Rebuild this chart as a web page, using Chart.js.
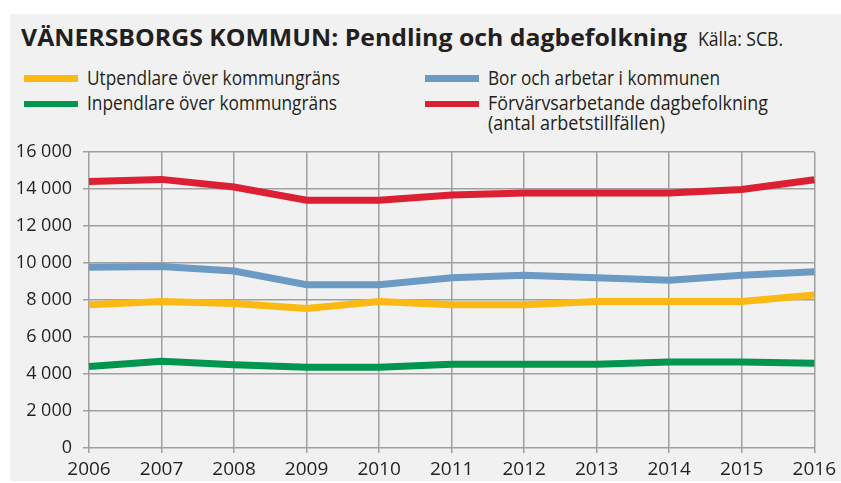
<!DOCTYPE html>
<html>
<head>
<meta charset="utf-8">
<script src="https://cdn.jsdelivr.net/npm/chart.js@4"></script>
<style>
  html, body { margin: 0; padding: 0; background: #ffffff; }
  body { width: 841px; height: 483px; position: relative; overflow: hidden; font-family: "Open Sans", "Noto Sans", sans-serif; color: #231f20; }
  #panel { position: absolute; left: 10px; top: 14px; width: 831px; height: 467px; background: #f0f1f0; }
  .t { position: absolute; white-space: nowrap; line-height: 1; transform-origin: 0 0; }
  #title { left: 20.7px; font-weight: 700; font-size: 23.5px; }
  #source { font-weight: 400; font-size: 19.5px; }
  .leg { font-size: 20.5px; }
  .sw { position: absolute; height: 6.5px; width: 54px; }
  #wrap { position: absolute; left: 0; top: 130px; width: 841px; height: 353px; }
</style>
</head>
<body>
<div id="panel"></div>
<div class="t" id="title" data-w="666" data-base="46.5">VÄNERSBORGS KOMMUN: Pendling och dagbefolkning</div>
<div class="t" id="source" data-w="85" data-base="46.5" style="left:698px">Källa: SCB.</div>

<div class="sw" id="sw0" style="left:24px;top:75px"></div>
<div class="t leg" id="lg0" data-w="253" data-base="85" style="left:87px"></div>
<div class="sw" id="sw1" style="left:24px;top:100.5px"></div>
<div class="t leg" id="lg1" data-w="250" data-base="110.5" style="left:87px"></div>
<div class="sw" id="sw2" style="left:425px;top:75px"></div>
<div class="t leg" id="lg2" data-w="232" data-base="85" style="left:488px"></div>
<div class="sw" id="sw3" style="left:425px;top:100.5px"></div>
<div class="t leg" id="lg3" data-w="280" data-base="110.5" style="left:488px"></div>
<div class="t leg" id="lg3b" data-w="177" data-base="130.5" style="left:488px"></div>

<div id="wrap"><canvas id="c"></canvas></div>

<script>
// ---- Data ----
const years = ["2006","2007","2008","2009","2010","2011","2012","2013","2014","2015","2016"];
const utpendlare = [7740, 7910, 7800, 7540, 7910, 7740, 7740, 7910, 7910, 7910, 8270];
const inpendlare = [4400, 4690, 4500, 4360, 4360, 4530, 4530, 4530, 4650, 4650, 4580];
const borOchArbetar = [9770, 9800, 9560, 8820, 8820, 9200, 9330, 9200, 9060, 9330, 9520];
const dagbefolkning = [14400, 14510, 14100, 13380, 13380, 13660, 13770, 13770, 13770, 13960, 14490];
const yTicks = [0, 2000, 4000, 6000, 8000, 10000, 12000, 14000, 16000];

const seriesNames = ["Utpendlare över kommungräns", "Inpendlare över kommungräns", "Bor och arbetar i kommunen", "Förvärvsarbetande dagbefolkning", "(antal arbetstillfällen)"];
const colors = { ut: "#fdb913", in: "#00964f", bor: "#6b9ac4", dag: "#dc1f33" };

// ---- Legend (HTML) ----
document.getElementById("lg0").textContent = seriesNames[0];
document.getElementById("lg1").textContent = seriesNames[1];
document.getElementById("lg2").textContent = seriesNames[2];
document.getElementById("lg3").textContent = seriesNames[3];
document.getElementById("lg3b").textContent = seriesNames[4];
document.getElementById("sw0").style.background = colors.ut;
document.getElementById("sw1").style.background = colors.in;
document.getElementById("sw2").style.background = colors.bor;
document.getElementById("sw3").style.background = colors.dag;

// fit texts: horizontal scale to target width, place baseline
function fitText() {
  document.querySelectorAll(".t").forEach(el => {
    const fs = parseFloat(getComputedStyle(el).fontSize);
    const w = el.getBoundingClientRect().width;
    const target = parseFloat(el.dataset.w);
    const sx = target / w;
    el.style.transform = "scaleX(" + sx.toFixed(4) + ")";
    const baseOffset = (fs - 1.362 * fs) / 2 + 1.069 * fs;
    el.style.top = (parseFloat(el.dataset.base) - baseOffset) + "px";
  });
}
fitText();

// ---- Chart ----
const fmt = v => String(v).replace(/\B(?=(\d{3})+(?!\d))/g, " ");
const gridColor = "#a0a0a0";

new Chart(document.getElementById("c"), {
  type: "line",
  data: {
    labels: years,
    datasets: [
      { label: seriesNames[0], data: utpendlare, borderColor: colors.ut },
      { label: seriesNames[1], data: inpendlare, borderColor: colors.in },
      { label: seriesNames[2], data: borOchArbetar, borderColor: colors.bor },
      { label: seriesNames[3] + " " + seriesNames[4], data: dagbefolkning, borderColor: colors.dag }
    ]
  },
  options: {
    responsive: true,
    maintainAspectRatio: false,
    animation: false,
    devicePixelRatio: 1,
    layout: { padding: { top: 16, right: 20, left: 0, bottom: 0 } },
    elements: {
      line: { borderWidth: 7, tension: 0, fill: false, borderCapStyle: "butt", borderJoinStyle: "miter" },
      point: { radius: 0, hoverRadius: 0 }
    },
    plugins: { legend: { display: false }, tooltip: { enabled: false }, title: { display: false } },
    scales: {
      x: {
        type: "category",
        offset: false,
        grid: { color: gridColor, lineWidth: 1.5, tickLength: 5, drawTicks: true },
        border: { display: false },
        ticks: { color: "#231f20", font: { family: "'Open Sans'", size: 19 }, padding: 5, maxRotation: 0, autoSkip: false },
        afterFit: s => { s.height = 35; }
      },
      y: {
        min: 0, max: 16000,
        afterBuildTicks: s => { s.ticks = yTicks.map(v => ({ value: v })); },
        grid: { color: gridColor, lineWidth: 1.5, tickLength: 6 },
        border: { display: false },
        ticks: { color: "#231f20", font: { family: "'Open Sans'", size: 18 }, padding: 11, callback: v => fmt(v) },
        afterFit: s => { s.width = 89; }
      }
    }
  }
});
</script>
</body>
</html>
